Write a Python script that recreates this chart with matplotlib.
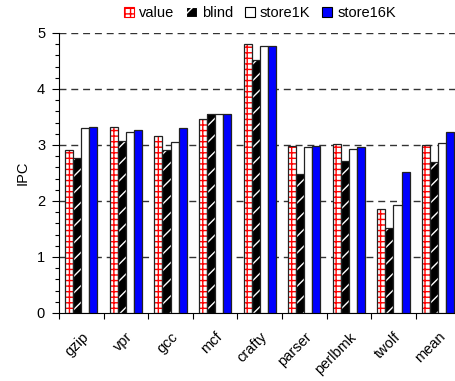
import numpy as np
import matplotlib.pyplot as plt
from matplotlib.patches import Patch
from matplotlib.ticker import MultipleLocator

plt.rcParams['font.family'] = ['Liberation Sans', 'DejaVu Sans']
plt.rcParams['hatch.linewidth'] = 1.0

benchmarks = ['gzip', 'vpr', 'gcc', 'mcf', 'crafty', 'parser', 'perlbmk', 'twolf', 'mean']
series_names = ['value', 'blind', 'store1K', 'store16K']

ipc_value = [2.91, 3.33, 3.16, 3.46, 4.80, 2.99, 3.01, 1.85, 3.00]
ipc_blind = [2.77, 3.08, 2.91, 3.55, 4.52, 2.48, 2.71, 1.52, 2.69]
ipc_store1k = [3.30, 3.24, 3.05, 3.55, 4.76, 2.96, 2.93, 1.93, 3.04]
ipc_store16k = [3.33, 3.27, 3.30, 3.55, 4.76, 2.99, 2.96, 2.51, 3.24]

fig = plt.figure(figsize=(4.56, 3.81), dpi=100)
ax = fig.add_axes([59 / 456, 68 / 381, 397 / 456, 280 / 381])

x = np.arange(len(benchmarks)) + 0.5
w = 0.18
offs = [-1.5 * w, -0.5 * w, 0.5 * w, 1.5 * w]

# dashed grid behind the bars
for yv in [1, 2, 3, 4, 5]:
    ax.axhline(yv, color='#333333', lw=1.0, ls=(0, (5, 3.5)), zorder=0)

# value: white with red brick hatch
ax.bar(x + offs[0], ipc_value, w, color='white', edgecolor='red', hatch='+++', lw=0, zorder=2)
ax.bar(x + offs[0], ipc_value, w, fill=False, edgecolor='#222222', lw=0.9, zorder=3)
# blind: black with white diagonal hatch
ax.bar(x + offs[1], ipc_blind, w, color='black', edgecolor='white', hatch='//', lw=0, zorder=2)
ax.bar(x + offs[1], ipc_blind, w, fill=False, edgecolor='#222222', lw=0.9, zorder=3)
ax.bar(x + offs[2], ipc_store1k, w, color='white', edgecolor='#222222', lw=0.9, zorder=3)
ax.bar(x + offs[3], ipc_store16k, w, color='#0000ff', edgecolor='#222222', lw=0.9, zorder=3)

ax.set_xlim(0, 397 / 44.6)
ax.set_ylim(0, 5)
ax.set_xticks(np.arange(0, 9))
ax.set_xticks(x, minor=True)
ax.set_xticklabels([])
ax.set_xticklabels(benchmarks, minor=True, rotation=45, ha='right', va='top',
                   rotation_mode='anchor', fontsize=10.5)
ax.tick_params(axis='x', which='minor', length=0, pad=12)
ax.tick_params(axis='x', which='major', length=4, width=0.8, direction='out')
ax.yaxis.set_major_locator(MultipleLocator(1))
ax.yaxis.set_minor_locator(MultipleLocator(0.2))
ax.tick_params(axis='y', which='major', length=5, width=0.8, labelsize=10.5, direction='out', pad=5)
ax.tick_params(axis='y', which='minor', length=3, width=0.8, direction='out')
ax.set_ylabel('IPC', fontsize=10.5, labelpad=5)

for side in ['top', 'right']:
    ax.spines[side].set_visible(False)
ax.spines['left'].set_linewidth(0.8)
ax.spines['bottom'].set_linewidth(0.8)

handles = [
    Patch(facecolor='white', edgecolor='red', hatch='+++', lw=0.8),
    Patch(facecolor='black', edgecolor='white', hatch='//', lw=0.8),
    Patch(facecolor='white', edgecolor='black', lw=0.8),
    Patch(facecolor='#0000ff', edgecolor='black', lw=0.8),
]
fig.legend(handles, series_names, loc='center', bbox_to_anchor=(260 / 456, 1 - 13 / 381),
           ncol=4, frameon=False, fontsize=10.5, handlelength=0.7, handleheight=0.7,
           handletextpad=0.35, columnspacing=0.8, borderpad=0)

fig.savefig('out.png', dpi=100)
